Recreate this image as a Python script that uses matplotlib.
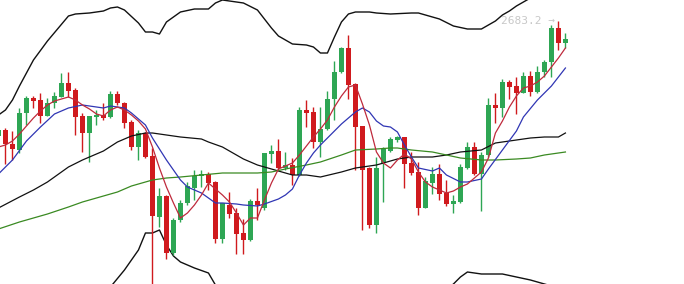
import numpy as np
import matplotlib
matplotlib.use("Agg")
import matplotlib.pyplot as plt

# daily candles, oldest first
opens = [
    2568.2, 2574.2, 2560.2, 2554.2, 2590.9, 2606.2, 2604.2, 2588.5, 2600.9, 2607.5,
    2620.9, 2614.2, 2588.2, 2571.5, 2587.5, 2589.2, 2586.9, 2610.2, 2600.9, 2581.9,
    2557.5, 2571.5, 2548.2, 2487.5, 2508.2, 2450.9, 2484.2, 2500.9, 2516.5, 2528.5,
    2529.9, 2522.2, 2464.9, 2499.2, 2491.5, 2471.5, 2464.2, 2503.2, 2495.9, 2550.2,
    2553.2, 2535.9, 2539.2, 2529.2, 2594.2, 2592.5, 2562.5, 2574.9, 2604.9, 2631.9,
    2655.9, 2620.2, 2578.2, 2535.9, 2479.2, 2540.9, 2553.5, 2564.2, 2567.5, 2540.9,
    2532.2, 2496.5, 2521.5, 2530.2, 2510.9, 2499.9, 2502.5, 2536.5, 2556.9, 2529.9,
    2549.2, 2599.2, 2596.5, 2622.5, 2618.2, 2611.5, 2628.2, 2612.5, 2631.9, 2642.5,
    2676.5, 2660.9,
]
highs = [
    2576.2, 2576.5, 2573.2, 2596.2, 2608.2, 2608.2, 2610.9, 2606.5, 2612.5, 2630.9,
    2632.5, 2615.9, 2590.9, 2588.2, 2594.2, 2601.5, 2613.2, 2613.5, 2602.5, 2584.2,
    2574.2, 2572.5, 2555.9, 2515.9, 2509.2, 2485.9, 2504.2, 2522.5, 2534.2, 2534.2,
    2532.5, 2523.5, 2501.5, 2512.5, 2495.9, 2484.9, 2504.9, 2515.9, 2551.5, 2559.2,
    2564.9, 2552.5, 2546.5, 2597.5, 2604.2, 2597.5, 2597.5, 2613.5, 2643.5, 2657.5,
    2669.2, 2620.9, 2578.2, 2537.5, 2547.5, 2557.5, 2566.9, 2568.2, 2567.5, 2552.5,
    2542.5, 2527.5, 2537.5, 2540.2, 2524.2, 2509.2, 2539.9, 2562.5, 2562.5, 2552.5,
    2605.9, 2610.9, 2625.2, 2624.2, 2627.5, 2632.5, 2633.5, 2638.2, 2644.2, 2679.2,
    2683.2, 2671.5,
]
lows = [
    2566.2, 2539.9, 2544.2, 2551.2, 2579.2, 2596.5, 2581.5, 2588.5, 2596.2, 2607.5,
    2607.5, 2569.2, 2552.5, 2542.5, 2579.2, 2584.2, 2585.9, 2599.2, 2575.9, 2554.2,
    2544.2, 2545.9, 2412.2, 2477.5, 2445.2, 2449.2, 2482.5, 2499.2, 2504.2, 2517.5,
    2514.2, 2460.9, 2460.9, 2485.9, 2450.2, 2450.2, 2463.2, 2484.2, 2494.2, 2540.9,
    2534.2, 2534.2, 2519.2, 2528.2, 2577.5, 2555.9, 2547.5, 2574.2, 2584.2, 2630.9,
    2604.9, 2534.2, 2474.2, 2475.9, 2471.5, 2502.5, 2552.5, 2562.5, 2515.9, 2529.2,
    2489.2, 2495.9, 2509.9, 2504.2, 2498.2, 2491.5, 2501.5, 2534.9, 2529.2, 2493.7,
    2547.5, 2581.5, 2586.9, 2605.2, 2590.2, 2610.9, 2608.2, 2611.5, 2627.5, 2627.5,
    2654.2, 2655.9,
]
closes = [
    2574.2, 2559.9, 2554.9, 2591.5, 2606.5, 2603.5, 2588.5, 2600.9, 2608.2, 2620.9,
    2613.5, 2587.5, 2571.5, 2588.2, 2589.2, 2585.9, 2610.2, 2600.9, 2581.5, 2557.5,
    2570.9, 2547.5, 2488.5, 2508.2, 2450.9, 2484.2, 2500.9, 2518.2, 2528.2, 2530.2,
    2521.5, 2464.9, 2500.9, 2490.2, 2470.2, 2464.2, 2503.2, 2499.2, 2550.9, 2553.2,
    2535.9, 2539.2, 2529.2, 2594.2, 2591.5, 2562.5, 2575.2, 2604.9, 2631.9, 2655.9,
    2619.2, 2577.5, 2534.2, 2479.2, 2535.9, 2555.2, 2565.2, 2566.9, 2539.9, 2531.5,
    2496.5, 2523.2, 2530.2, 2509.9, 2499.9, 2502.9, 2536.9, 2556.9, 2529.9, 2549.2,
    2599.2, 2596.5, 2622.5, 2617.5, 2611.5, 2628.2, 2612.5, 2632.5, 2642.5, 2676.5,
    2660.9, 2665.2,
]

# short moving average, one value per candle
ma5 = [
    2557.2, 2559.2, 2563.2, 2570.2, 2578.2, 2586.2, 2593.2, 2599.2, 2603.2, 2605.2,
    2607.2, 2604.2, 2599.2, 2595.2, 2590.2, 2588.2, 2594.2, 2597.2, 2594.2, 2589.2,
    2583.2, 2575.2, 2557.2, 2536.2, 2517.2, 2501.2, 2486.2, 2491.2, 2499.2, 2509.2,
    2521.2, 2515.2, 2509.2, 2502.2, 2491.2, 2479.2, 2486.2, 2486.2, 2504.2, 2521.2,
    2535.2, 2538.2, 2541.2, 2549.2, 2558.2, 2567.2, 2575.2, 2584.2, 2597.2, 2608.2,
    2617.2, 2619.2, 2600.2, 2579.2, 2552.2, 2541.2, 2536.2, 2544.2, 2550.2, 2545.2,
    2532.2, 2522.2, 2517.2, 2514.2, 2511.2, 2513.2, 2517.2, 2520.2, 2526.2, 2532.2,
    2546.2, 2571.2, 2583.2, 2597.2, 2608.2, 2616.2, 2618.2, 2622.2, 2628.2, 2637.2,
    2646.2, 2656.2,
]

# slower lines, read at selected candles
ma10_idx = [0, 2, 4, 6, 8, 10, 12, 13, 15, 16, 18, 19, 21, 22, 24, 26, 27, 29, 31, 32,
            34, 35, 37, 38, 40, 41, 42, 43, 44, 45, 46, 47, 48, 49, 50, 51, 52, 53, 54, 55,
            56, 57, 58, 59, 60, 62, 63, 64, 66, 67, 69, 70, 72, 74, 75, 77, 79, 81]
ma10 = [2530.2, 2544.2, 2563.2, 2577.2, 2590.2, 2596.2, 2599.2, 2598.2, 2596.2, 2598.2,
        2596.2, 2591.2, 2579.2, 2566.2, 2544.2, 2524.2, 2517.2, 2511.2, 2501.2, 2501.2,
        2500.2, 2499.2, 2498.2, 2500.2, 2505.2, 2509.2, 2515.2, 2529.2, 2541.2, 2551.2,
        2559.2, 2566.2, 2573.2, 2580.2, 2586.2, 2592.2, 2596.2, 2592.2, 2583.2, 2578.2,
        2577.2, 2572.2, 2559.2, 2547.2, 2536.2, 2533.2, 2536.2, 2529.2, 2522.2, 2522.2,
        2525.2, 2535.2, 2554.2, 2573.2, 2587.2, 2604.2, 2618.2, 2636.2]

mid_idx = [0, 3, 5, 7, 10, 12, 15, 17, 19, 21, 22, 24, 26, 29, 30, 32, 35, 37, 39, 42,
           44, 46, 49, 51, 54, 56, 57, 59, 62, 64, 66, 69, 71, 74, 76, 78, 80, 81]
mid = [2496.2, 2507.2, 2514.2, 2522.2, 2537.2, 2544.2, 2553.2, 2562.2, 2568.2, 2571.2,
       2571.2, 2569.2, 2567.2, 2565.2, 2562.2, 2557.2, 2545.2, 2539.2, 2535.2, 2529.2,
       2529.2, 2527.2, 2532.2, 2536.2, 2539.2, 2543.2, 2545.2, 2547.2, 2547.2, 2549.2,
       2552.2, 2554.2, 2561.2, 2564.2, 2566.2, 2567.2, 2567.2, 2571.2]

ma60_idx = [0, 3, 5, 7, 10, 12, 15, 17, 19, 22, 24, 26, 29, 32, 37, 39, 41, 44, 46, 49,
            51, 54, 56, 57, 59, 62, 64, 66, 69, 71, 74, 76, 78, 81]
ma60 = [2475.2, 2482.2, 2486.2, 2490.2, 2497.2, 2502.2, 2508.2, 2512.2, 2518.2, 2524.2,
        2526.2, 2527.2, 2529.2, 2531.2, 2531.2, 2532.2, 2535.2, 2539.2, 2542.2, 2549.2,
        2554.2, 2555.2, 2556.2, 2556.2, 2554.2, 2552.2, 2549.2, 2546.2, 2544.2, 2544.2,
        2545.2, 2546.2, 2549.2, 2552.2]

upper_idx = [0, 1, 2, 3, 5, 7, 10, 11, 13, 15, 16, 17, 18, 20, 21, 22, 23, 24, 26, 28,
             30, 31, 32, 35, 37, 39, 40, 42, 44, 45, 46, 47, 48, 49, 50, 51, 53, 54, 56, 59,
             60, 61, 63, 65, 67, 69, 71, 72, 73, 74, 75, 76, 78, 81]
upper = [2589.2, 2594.2, 2604.2, 2618.2, 2644.2, 2663.2, 2688.2, 2690.2, 2691.2, 2693.2,
         2696.2, 2697.2, 2694.2, 2681.2, 2672.2, 2672.2, 2670.2, 2682.2, 2692.2, 2695.2,
         2695.2, 2701.2, 2704.2, 2701.2, 2694.2, 2676.2, 2668.2, 2660.2, 2659.2, 2657.2,
         2651.2, 2651.2, 2667.2, 2682.2, 2690.2, 2692.2, 2692.2, 2691.2, 2690.2, 2691.2,
         2691.2, 2689.2, 2685.2, 2678.2, 2675.2, 2675.2, 2683.2, 2689.2, 2693.2, 2698.2,
         2702.2, 2706.2, 2714.2, 2719.2]

lower_a_idx = [14, 16, 18, 20, 21, 22, 23, 24, 25, 26, 28, 30, 31, 32]
lower_a = [2404.2, 2417.2, 2434.2, 2454.2, 2471.2, 2471.2, 2474.2, 2459.2, 2448.2, 2442.2,
           2436.2, 2431.2, 2419.2, 2409.2]
lower_b_idx = [63, 65, 66, 67, 69, 72, 74, 76, 78, 81]
lower_b = [2409.2, 2420.2, 2427.2, 2432.2, 2430.2, 2430.2, 2427.2, 2424.2, 2420.2, 2414.2]

UP = "#2ea654"
DOWN = "#d01a1e"

fig = plt.figure(figsize=(6.84, 2.84), dpi=100)
ax = fig.add_axes([0, 0, 1, 1])
ax.set_axis_off()

o, h, l, c = map(np.asarray, (opens, highs, lows, closes))
x = np.arange(len(o))
colors = np.where(c >= o, UP, DOWN)

ax.vlines(x, l, h, colors=colors, linewidth=1.0, zorder=2)
ax.bar(x, np.maximum(np.abs(c - o), 1.0), bottom=np.minimum(o, c), width=0.66,
       color=colors, linewidth=0, zorder=3)

ax.plot(upper_idx, upper, color="#111111", lw=1.0, zorder=1)
ax.plot(lower_a_idx, lower_a, color="#111111", lw=1.0, zorder=1)
ax.plot(lower_b_idx, lower_b, color="#111111", lw=1.0, zorder=1)
ax.plot(mid_idx, mid, color="#111111", lw=0.9, zorder=4)
ax.plot(ma60_idx, ma60, color="#3a8a22", lw=0.9, zorder=4)
ax.plot(ma10_idx, ma10, color="#3036b4", lw=0.9, zorder=4)
ax.plot(x, ma5, color="#bf2a3c", lw=0.9, zorder=4)

top = int(np.argmax(h))
ax.text(top - 0.45, h[top], f"{h[top]:.1f} \u2192", ha="right", va="center",
        color="#c8c8c8", fontsize=8, family="DejaVu Sans Mono")

ax.set_xlim(0.22, 97.94)
ax.set_ylim(2420.2, 2704.2)

fig.savefig("out.png", dpi=100)
